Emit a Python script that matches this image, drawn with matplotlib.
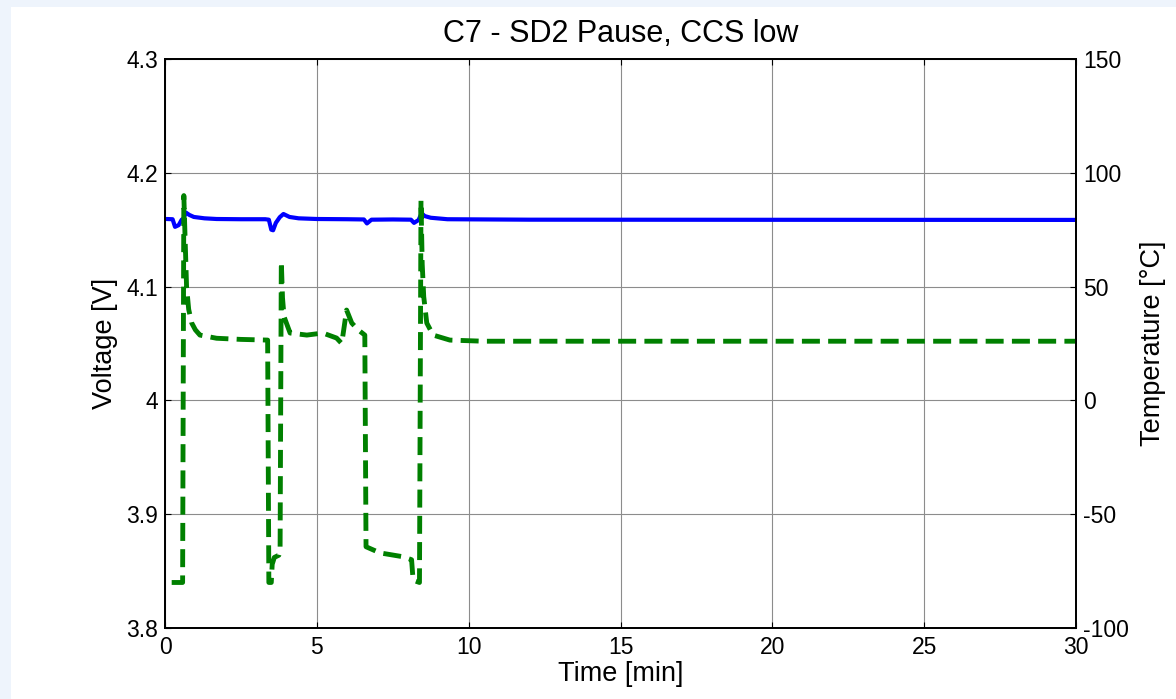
import numpy as np
import matplotlib.pyplot as plt
from matplotlib.patches import Rectangle
from matplotlib.ticker import FormatStrFormatter

plt.rcParams['font.family'] = ['Liberation Sans', 'DejaVu Sans']
plt.rcParams['axes.unicode_minus'] = False

# Voltage trace [min, V]
volt_t = [0.05, 0.25, 0.33, 0.45, 0.55, 0.62, 0.68, 0.8, 0.95, 1.3, 1.7, 2.5, 3.3, 3.42,
          3.5, 3.56, 3.65, 3.78, 3.9, 4.1, 4.4, 5.0, 6.0, 6.55, 6.65, 6.8, 7.5, 8.1,
          8.2, 8.35, 8.45, 8.55, 8.75, 9.3, 12, 20, 30]
volt_v = [4.1594, 4.1592, 4.1525, 4.1540, 4.1588, 4.1600, 4.1652, 4.1630, 4.1612, 4.1600, 4.1594, 4.1592, 4.1592, 4.1588,
          4.1500, 4.1495, 4.1560, 4.1610, 4.1638, 4.1612, 4.1600, 4.1594, 4.1592, 4.1590, 4.1555, 4.1588, 4.1590, 4.1588,
          4.1560, 4.1585, 4.1645, 4.1620, 4.1605, 4.1592, 4.1588, 4.1587, 4.1586]

# Temperature trace [min, degC]
temp_t = [0.22, 0.58, 0.62, 0.66, 0.71, 0.78, 0.88, 1.0, 1.15, 1.7, 2.5, 3.38, 3.42,
          3.5, 3.53, 3.6, 3.75, 3.79, 3.83, 3.87, 3.92, 4.12, 4.67, 5.2, 5.65, 5.82,
          5.98, 6.15, 6.36, 6.58, 6.62, 7.08, 7.84, 8.12, 8.17, 8.38, 8.43, 8.47,
          8.52, 8.62, 8.83, 9.38, 10.5, 30]
temp_c = [-80, -80, 90, 72, 50, 40, 34, 31, 28.7, 27.3, 26.8, 26.5, -80,
          -80, -72, -69, -68, -66, 61, 45, 36.8, 29.6, 28.7, 29.6, 27.4, 25,
          39.7, 34, 31, 28.7, -64.3, -67, -68.7, -70, -79, -80, 88, 60,
          45.6, 34, 28.7, 26.5, 26, 26]

fig = plt.figure(figsize=(11.76, 6.99), dpi=100, facecolor='#EEF4FC')
fig.patches.append(Rectangle((11 / 1176, 0), 1, 692 / 699, transform=fig.transFigure,
                             facecolor='white', edgecolor='none', zorder=-10))

ax = fig.add_axes([165 / 1176, 1 - 628 / 699, 911 / 1176, 569 / 699])
ax.plot(volt_t, volt_v, color='#0000FF', lw=3.0, solid_capstyle='round')
ax.set_xlim(0, 30)
ax.set_ylim(3.8, 4.3)
ax.set_xticks(np.arange(0, 31, 5))
ax.set_yticks(np.arange(3.8, 4.31, 0.1))
ax.yaxis.set_major_formatter(FormatStrFormatter('%g'))
ax.grid(True, color='#8c8c8c', lw=0.8)
ax.tick_params(direction='in', length=4, labelsize=16.5, top=True, right=False, pad=5)
ax.tick_params(axis='x', pad=6)
ax.set_xlabel('Time [min]', fontsize=19.5, labelpad=1)
ax.set_ylabel('Voltage [V]', fontsize=19.5, labelpad=6)
ax.set_title('C7 - SD2 Pause, CCS low', fontsize=22, pad=12)
for s in ax.spines.values():
    s.set_linewidth(1.3)

ax2 = ax.twinx()
ax2.plot(temp_t, temp_c, color='#008000', lw=3.5, dashes=(3.7, 1.7))
ax2.set_ylim(-100, 150)
ax2.set_yticks(np.arange(-100, 151, 50))
ax2.tick_params(direction='in', length=4, labelsize=16.5, pad=5)
ax2.set_ylabel('Temperature [°C]', fontsize=19.5, labelpad=8)
for s in ax2.spines.values():
    s.set_linewidth(1.3)

fig.savefig('out.png', dpi=100, facecolor=fig.get_facecolor())
